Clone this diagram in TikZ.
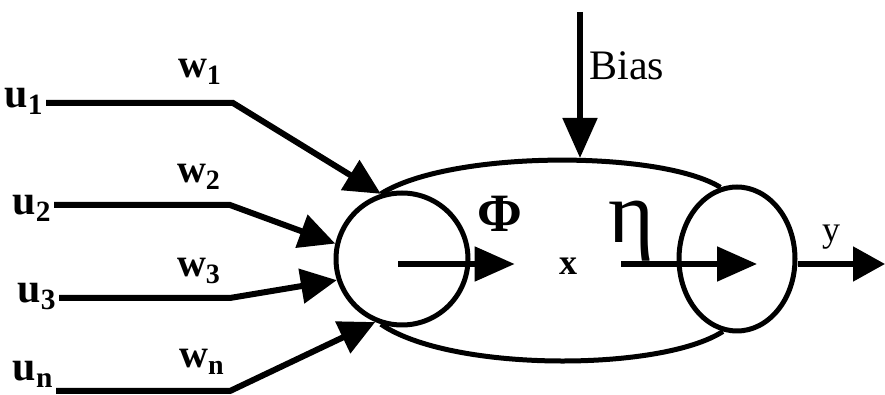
\documentclass[tikz,border=0pt]{standalone}
\usepackage{fontspec}
\setmainfont{Liberation Serif}
\usetikzlibrary{arrows.meta, positioning, shapes.geometric}
\tikzset{
  cell/.style    = {draw, circle, line width=2.5pt, inner sep=0pt},
  cellline/.style= {line width=2.5pt},
  inlbl/.style   = {font=\bfseries\fontsize{21}{21}\selectfont, inner sep=1pt, anchor=base east},
  wlbl/.style    = {font=\bfseries\fontsize{20}{20}\selectfont, inner sep=0pt, anchor=base},
  inarrow/.style = {-{Triangle[length=18pt, width=17pt]}, line width=3pt},
  sarrow/.style  = {-{Triangle[length=20pt, width=17pt]}, line width=2.6pt},
  oarrow/.style  = {-{Triangle[length=16pt, width=17pt]}, line width=2.6pt},
}

\begin{document}
\begin{tikzpicture}[x=0.5pt, y=-0.5pt]
  \useasboundingbox (0,0) rectangle (885,395);
  % neuron body
  \node[cell, minimum size=66pt] (sum) at (402,259) {};
  \node[cell, ellipse, minimum width=58pt, minimum height=72pt] (act) at (737,259) {};
  \draw[cellline] (sum.108) .. controls (450,150) and (660,150) .. (act.103);
  \draw[cellline] (sum.252) .. controls (450,372) and (660,372) .. (act.259);
  \coordinate (top) at (580,158);

  % inputs
  \node[inlbl] (u1) at (46,108) {u\textsubscript{1}};
  \node[inlbl] (u2) at (54,215) {u\textsubscript{2}};
  \node[inlbl] (u3) at (59,303) {u\textsubscript{3}};
  \node[inlbl] (un) at (56,381) {u\textsubscript{n}};
  \coordinate (b1) at (233,103);
  \coordinate (b2) at (230,205);
  \coordinate (b3) at (230,298);
  \coordinate (bn) at (230,391);
  \draw[inarrow] (u1.east |- b1) -- (b1) -- (sum.108);
  \draw[inarrow] (u2.east |- b2) -- (b2) -- (sum.167);
  \draw[inarrow] (u3.east |- b3) -- (b3) -- (sum.198);
  \draw[inarrow] (un.east |- bn) -- (bn) -- (sum.247);
  \node[wlbl] (w1) at (200,78)  {w\textsubscript{1}};
  \node[wlbl] (w2) at (199,183) {w\textsubscript{2}};
  \node[wlbl] (w3) at (199,277) {w\textsubscript{3}};
  \node[wlbl] (wn) at (202,368) {w\textsubscript{n}};

  % bias
  \coordinate (bsrc) at (580,12);
  \node[font=\fontsize{21}{21}\selectfont, anchor=base west, inner sep=0pt] (bias) at (589,80) {Bias};
  \draw[sarrow] (bsrc) -- (top);

  % inner signal
  \coordinate (s0) at (398,264);
  \node[font=\bfseries\fontsize{18}{18}\selectfont, inner xsep=22pt] (x) at (568,266) {x};
  \coordinate (atip) at (757,264);
  \draw[sarrow] (s0) -- (s0 -| x.west);
  \draw[sarrow] (x.east |- atip) -- (atip);
  \node[font=\bfseries\fontsize{27}{27}\selectfont, anchor=base] (phi) at (500,232) {Φ};
  \node[font=\fontsize{44}{44}\selectfont, anchor=base] (eta) at (632,243) {η};

  % output
  \coordinate (yend) at (885,264);
  \draw[oarrow] (act.east |- yend) -- (yend);
  \node[font=\fontsize{18}{18}\selectfont, anchor=base] (y) at (831,242) {y};
\end{tikzpicture}
\end{document}
